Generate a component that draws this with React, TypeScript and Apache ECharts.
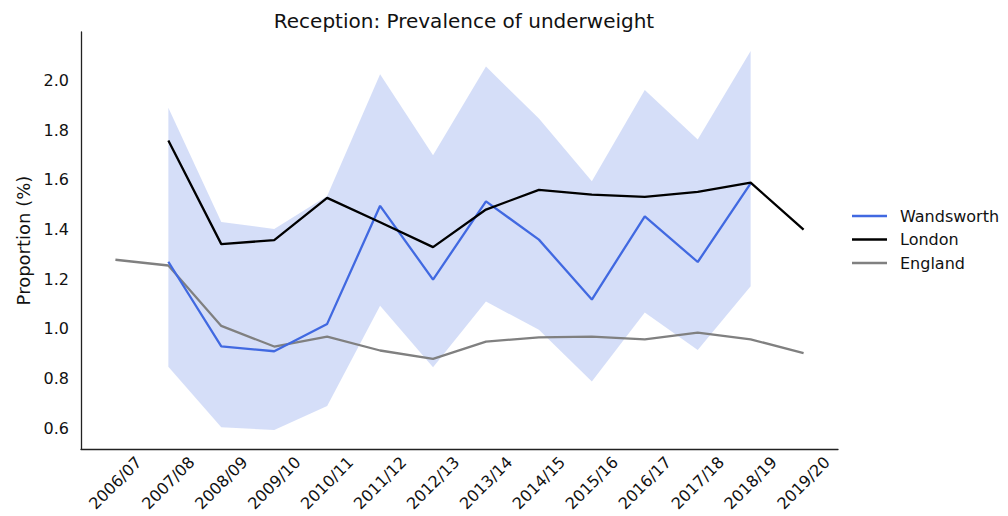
import React, { useEffect, useRef } from "react";
import * as echarts from "echarts";

const categories = [
  "2006/07", "2007/08", "2008/09", "2009/10", "2010/11", "2011/12", "2012/13",
  "2013/14", "2014/15", "2015/16", "2016/17", "2017/18", "2018/19", "2019/20",
];
// Wandsworth (2007/08 – 2018/19)
const wandsworth = [1.27, 0.93, 0.91, 1.02, 1.495, 1.198, 1.513, 1.359, 1.118, 1.453, 1.269, 1.585];
const wandsworthUpper = [1.89, 1.43, 1.402, 1.535, 2.024, 1.698, 2.055, 1.846, 1.594, 1.961, 1.762, 2.118];
const wandsworthLower = [0.848, 0.604, 0.593, 0.69, 1.093, 0.846, 1.11, 0.996, 0.788, 1.066, 0.915, 1.171];
const wandsworthStart = 1;
// London (2007/08 – 2019/20)
const london = [1.758, 1.341, 1.357, 1.527, 1.429, 1.329, 1.48, 1.559, 1.54, 1.531, 1.551, 1.588, 1.399];
const londonStart = 1;
// England (2006/07 – 2019/20)
const england = [1.278, 1.255, 1.012, 0.929, 0.969, 0.913, 0.879, 0.949, 0.966, 0.969, 0.958, 0.985, 0.958, 0.902];
const englandStart = 0;
const yTicks = [0.6, 0.8, 1.0, 1.2, 1.4, 1.6, 1.8, 2.0];

const toPairs = (arr: number[], start: number) => arr.map((v, i) => [start + i, v]);

export default function App() {
  const ref = useRef<HTMLDivElement>(null);
  useEffect(() => {
    document.body.style.margin = "0";
    if (!ref.current) return;
    const chart = echarts.init(ref.current, null, { renderer: "svg" });
    const font = "DejaVu Sans";
    const lo = Math.min(...wandsworthLower);
    const hi = Math.max(...wandsworthUpper);
    const pad = (hi - lo) * 0.05;
    const n = categories.length - 1;
    const bandData = wandsworthLower.map((l, i) => [wandsworthStart + i, l, wandsworthUpper[i]]);
    chart.setOption({
      animation: false,
      title: {
        text: "Reception: Prevalence of underweight",
        left: 459,
        textAlign: "center",
        top: 6,
        textStyle: { fontFamily: font, fontSize: 20, fontWeight: "normal", color: "#111" },
      },
      legend: {
        orient: "vertical",
        left: 847,
        top: 203,
        itemWidth: 35,
        itemHeight: 2.5,
        itemGap: 7.5,
        icon: "rect",
        data: ["Wandsworth", "London", "England"],
        textStyle: { fontFamily: font, fontSize: 16, color: "#111", padding: [0, 0, 0, 8] },
      },
      grid: { left: 81, right: 170, top: 32, bottom: 67 },
      xAxis: {
        type: "value",
        min: -n * 0.05,
        max: n * 1.05,
        splitLine: { show: false },
        axisTick: { show: false },
        axisLine: { show: true, onZero: false, lineStyle: { color: "#222", width: 1.3 } },
        axisLabel: {
          customValues: categories.map((_, i) => i),
          formatter: (v: number) => categories[Math.round(v)] ?? "",
          rotate: 45,
          align: "center",
          verticalAlign: "middle",
          margin: 34,
          fontFamily: font,
          fontSize: 16,
          color: "#111",
        },
      },
      yAxis: {
        type: "value",
        min: lo - pad,
        max: hi + pad,
        name: "Proportion (%)",
        nameLocation: "middle",
        nameRotate: 90,
        nameGap: 46,
        nameTextStyle: { fontFamily: font, fontSize: 18, color: "#111" },
        splitLine: { show: false },
        axisTick: { show: false },
        axisLine: { show: true, onZero: false, lineStyle: { color: "#222", width: 1.3 } },
        axisLabel: {
          customValues: yTicks,
          formatter: (v: number) => v.toFixed(1),
          margin: 12,
          fontFamily: font,
          fontSize: 16,
          color: "#111",
        },
      },
      series: [
        {
          name: "band",
          type: "custom",
          silent: true,
          encode: { x: 0, y: [1, 2] },
          data: bandData,
          z: 1,
          renderItem: (params: any, api: any) => {
            if (params.dataIndex !== 0) return null;
            const top = bandData.map((d) => api.coord([d[0], d[2]]));
            const bot = bandData.map((d) => api.coord([d[0], d[1]])).reverse();
            return {
              type: "polygon",
              shape: { points: [...top, ...bot] },
              style: { fill: "rgba(65,105,225,0.22)", stroke: "none" },
            };
          },
        },
        {
          name: "Wandsworth",
          type: "line",
          symbol: "none",
          color: "#4169E1",
          lineStyle: { width: 2.3, color: "#4169E1" },
          data: toPairs(wandsworth, wandsworthStart),
          z: 3,
        },
        {
          name: "London",
          type: "line",
          symbol: "none",
          color: "#000000",
          lineStyle: { width: 2.3, color: "#000000" },
          data: toPairs(london, londonStart),
          z: 3,
        },
        {
          name: "England",
          type: "line",
          symbol: "none",
          color: "#808080",
          lineStyle: { width: 2.3, color: "#808080" },
          data: toPairs(england, englandStart),
          z: 2,
        },
      ],
    });
    return () => chart.dispose();
  }, []);
  return <div ref={ref} style={{ width: 1008, height: 516 }} />;
}
